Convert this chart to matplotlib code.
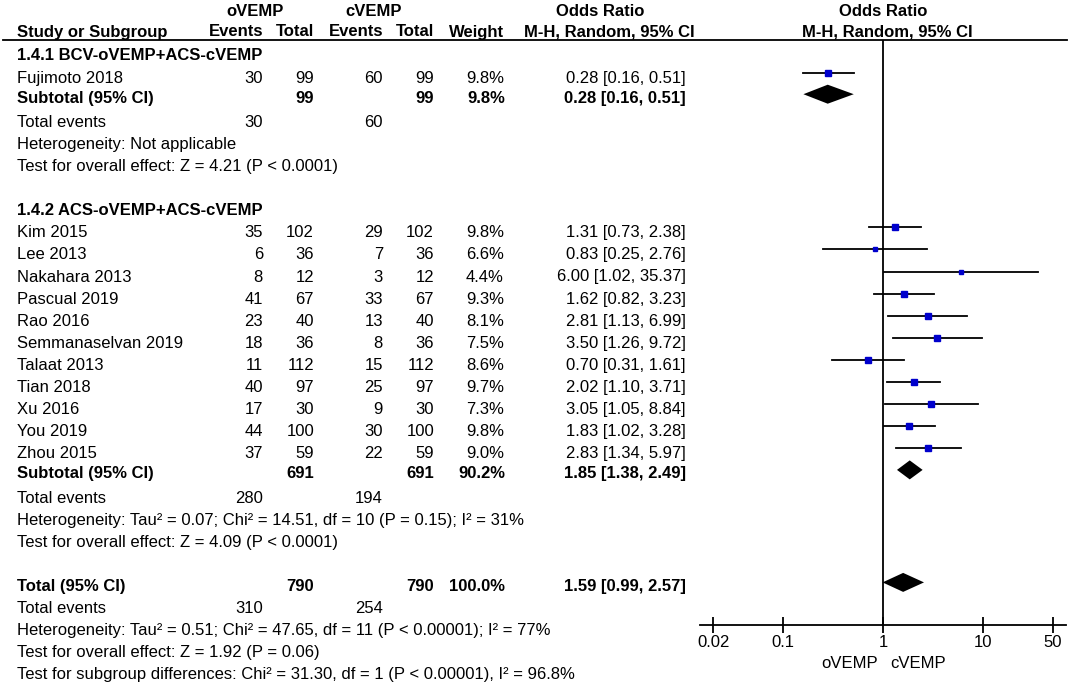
import numpy as np
import matplotlib
matplotlib.use("Agg")
import matplotlib.pyplot as plt

plt.rcParams['font.family'] = ['Liberation Sans', 'DejaVu Sans']

# group 1.4.1
g1_name = "1.4.1 BCV-oVEMP+ACS-cVEMP"
g1_studies = ["Fujimoto 2018"]
g1_ev1 = [30]
g1_n1 = [99]
g1_ev2 = [60]
g1_n2 = [99]
g1_weight = [9.8]
g1_or = [0.28]
g1_lo = [0.16]
g1_hi = [0.51]
g1_sub = (0.28, 0.16, 0.51)
g1_sub_weight = 9.8
g1_stats = ["Heterogeneity: Not applicable",
            "Test for overall effect: Z = 4.21 (P < 0.0001)"]

# group 1.4.2
g2_name = "1.4.2 ACS-oVEMP+ACS-cVEMP"
g2_studies = ["Kim 2015", "Lee 2013", "Nakahara 2013", "Pascual 2019", "Rao 2016",
              "Semmanaselvan 2019", "Talaat 2013", "Tian 2018", "Xu 2016",
              "You 2019", "Zhou 2015"]
g2_ev1 = [35, 6, 8, 41, 23, 18, 11, 40, 17, 44, 37]
g2_n1 = [102, 36, 12, 67, 40, 36, 112, 97, 30, 100, 59]
g2_ev2 = [29, 7, 3, 33, 13, 8, 15, 25, 9, 30, 22]
g2_n2 = [102, 36, 12, 67, 40, 36, 112, 97, 30, 100, 59]
g2_weight = [9.8, 6.6, 4.4, 9.3, 8.1, 7.5, 8.6, 9.7, 7.3, 9.8, 9.0]
g2_or = [1.31, 0.83, 6.00, 1.62, 2.81, 3.50, 0.70, 2.02, 3.05, 1.83, 2.83]
g2_lo = [0.73, 0.25, 1.02, 0.82, 1.13, 1.26, 0.31, 1.10, 1.05, 1.02, 1.34]
g2_hi = [2.38, 2.76, 35.37, 3.23, 6.99, 9.72, 1.61, 3.71, 8.84, 3.28, 5.97]
g2_sub = (1.85, 1.38, 2.49)
g2_sub_weight = 90.2
g2_stats = ["Heterogeneity: Tau\u00b2 = 0.07; Chi\u00b2 = 14.51, df = 10 (P = 0.15); I\u00b2 = 31%",
            "Test for overall effect: Z = 4.09 (P < 0.0001)"]

# overall
tot = (1.59, 0.99, 2.57)
tot_weight = 100.0
tot_stats = ["Heterogeneity: Tau\u00b2 = 0.51; Chi\u00b2 = 47.65, df = 11 (P < 0.00001); I\u00b2 = 77%",
             "Test for overall effect: Z = 1.92 (P = 0.06)",
             "Test for subgroup differences: Chi\u00b2 = 31.30, df = 1 (P < 0.00001), I\u00b2 = 96.8%"]

xticks = [0.02, 0.1, 1, 10, 50]
xticklabels = ["0.02", "0.1", "1", "10", "50"]

FS = 12
BLUE = "#0000cc"

# column positions (pixels, right aligned)
X_NAME = 17
X_EV1, X_N1, X_EV2, X_N2, X_W, X_OR = 263, 314, 383, 434, 504, 686
X_ONE = 883          # pixel of OR = 1
PX_DEC = 100         # pixels per decade
FX0, FX1 = 700, 1066
AXIS_Y = 625
ROW = 22.1


def fmt_ci(v):
    return "%.2f [%.2f, %.2f]" % v


fig = plt.figure(figsize=(10.84, 6.83), dpi=100)
ax = fig.add_axes([0, 0, 1, 1])
ax.set_xlim(0, 1084)
ax.set_ylim(683, 0)
ax.axis("off")

fa = fig.add_axes([FX0 / 1084, 0, (FX1 - FX0) / 1084, 1])
fa.patch.set_visible(False)
fa.set_xscale("log")
fa.set_xlim(10 ** ((FX0 - X_ONE) / PX_DEC), 10 ** ((FX1 - X_ONE) / PX_DEC))
fa.set_ylim(683, 0)
for s in ["left", "right", "top"]:
    fa.spines[s].set_visible(False)
fa.spines["bottom"].set_position(("data", AXIS_Y))
fa.spines["bottom"].set_linewidth(1.3)
fa.set_yticks([])
fa.set_xticks(xticks)
fa.set_xticklabels(xticklabels)
fa.xaxis.set_minor_locator(matplotlib.ticker.NullLocator())
fa.tick_params(axis="x", direction="inout", length=11, width=1.3, labelsize=FS, pad=2)


def txt(x, y, s, ha="left", bold=False):
    ax.text(x, y, s, ha=ha, va="center", fontsize=FS,
            fontweight="bold" if bold else "normal")


# headers
txt(255, 11, "oVEMP", ha="center", bold=True)
txt(374, 11, "cVEMP", ha="center", bold=True)
txt(600, 11, "Odds Ratio", ha="center", bold=True)
txt(X_ONE, 11, "Odds Ratio", ha="center", bold=True)
txt(X_NAME, 32, "Study or Subgroup", bold=True)
txt(X_EV1, 32, "Events", ha="right", bold=True)
txt(X_N1, 32, "Total", ha="right", bold=True)
txt(X_EV2, 32, "Events", ha="right", bold=True)
txt(X_N2, 32, "Total", ha="right", bold=True)
txt(X_W, 32, "Weight", ha="right", bold=True)
txt(609, 32, "M-H, Random, 95% CI", ha="center", bold=True)
txt(887, 32, "M-H, Random, 95% CI", ha="center", bold=True)
ax.plot([3, 1067], [40, 40], color="black", lw=1.3)
fa.vlines(1, 40, AXIS_Y, color="black", lw=1.3)


def diamond(y, v):
    o, lo, hi = v
    h = 9.5
    fa.fill([lo, o, hi, o], [y, y - h, y, y + h], color="black", lw=0)


def group(y0, name, studies, ev1, n1, ev2, n2, w, orv, lo, hi, sub, subw, stats):
    txt(X_NAME, y0, name, bold=True)
    y = y0 + ROW
    for i in range(len(studies)):
        txt(X_NAME, y, studies[i])
        txt(X_EV1, y, str(ev1[i]), ha="right")
        txt(X_N1, y, str(n1[i]), ha="right")
        txt(X_EV2, y, str(ev2[i]), ha="right")
        txt(X_N2, y, str(n2[i]), ha="right")
        txt(X_W, y, "%.1f%%" % w[i], ha="right")
        txt(X_OR, y, fmt_ci((orv[i], lo[i], hi[i])), ha="right")
        fa.plot([lo[i], hi[i]], [y - 5.5, y - 5.5], color="black", lw=1.3)
        fa.plot(orv[i], y - 5.5, marker="s", ms=1.6 + w[i] * 0.3,
                color=BLUE, mec=BLUE, lw=0)
        y += ROW
    y -= 2
    txt(X_NAME, y, "Subtotal (95% CI)", bold=True)
    txt(X_N1, y, str(sum(n1)), ha="right", bold=True)
    txt(X_N2, y, str(sum(n2)), ha="right", bold=True)
    txt(X_W + 1, y, "%.1f%%" % subw, ha="right", bold=True)
    txt(X_OR, y, fmt_ci(sub), ha="right", bold=True)
    diamond(y - 4, sub)
    y += ROW + 2
    txt(X_NAME, y, "Total events")
    txt(X_EV1, y, str(sum(ev1)), ha="right")
    txt(X_EV2, y, str(sum(ev2)), ha="right")
    for s in stats:
        y += ROW
        txt(X_NAME, y, s)
    return y


y_end = group(56, g1_name, g1_studies, g1_ev1, g1_n1, g1_ev2, g1_n2, g1_weight,
              g1_or, g1_lo, g1_hi, g1_sub, g1_sub_weight, g1_stats)
y_end = group(y_end + 2 * ROW, g2_name, g2_studies, g2_ev1, g2_n1, g2_ev2, g2_n2,
              g2_weight, g2_or, g2_lo, g2_hi, g2_sub, g2_sub_weight, g2_stats)

y = y_end + 2 * ROW
txt(X_NAME, y, "Total (95% CI)", bold=True)
txt(X_N1, y, str(sum(g1_n1) + sum(g2_n1)), ha="right", bold=True)
txt(X_N2, y, str(sum(g1_n2) + sum(g2_n2)), ha="right", bold=True)
txt(X_W + 1, y, "%.1f%%" % tot_weight, ha="right", bold=True)
txt(X_OR, y, fmt_ci(tot), ha="right", bold=True)
diamond(y - 4, tot)
y += ROW
txt(X_NAME, y, "Total events")
txt(X_EV1, y, str(sum(g1_ev1) + sum(g2_ev1)), ha="right")
txt(X_EV2, y, str(sum(g1_ev2) + sum(g2_ev2)), ha="right")
for s in tot_stats:
    y += ROW
    txt(X_NAME, y, s)

txt(X_ONE - 5, 663, "oVEMP", ha="right")
txt(X_ONE + 7, 663, "cVEMP", ha="left")

fig.savefig("out.png", dpi=100)
